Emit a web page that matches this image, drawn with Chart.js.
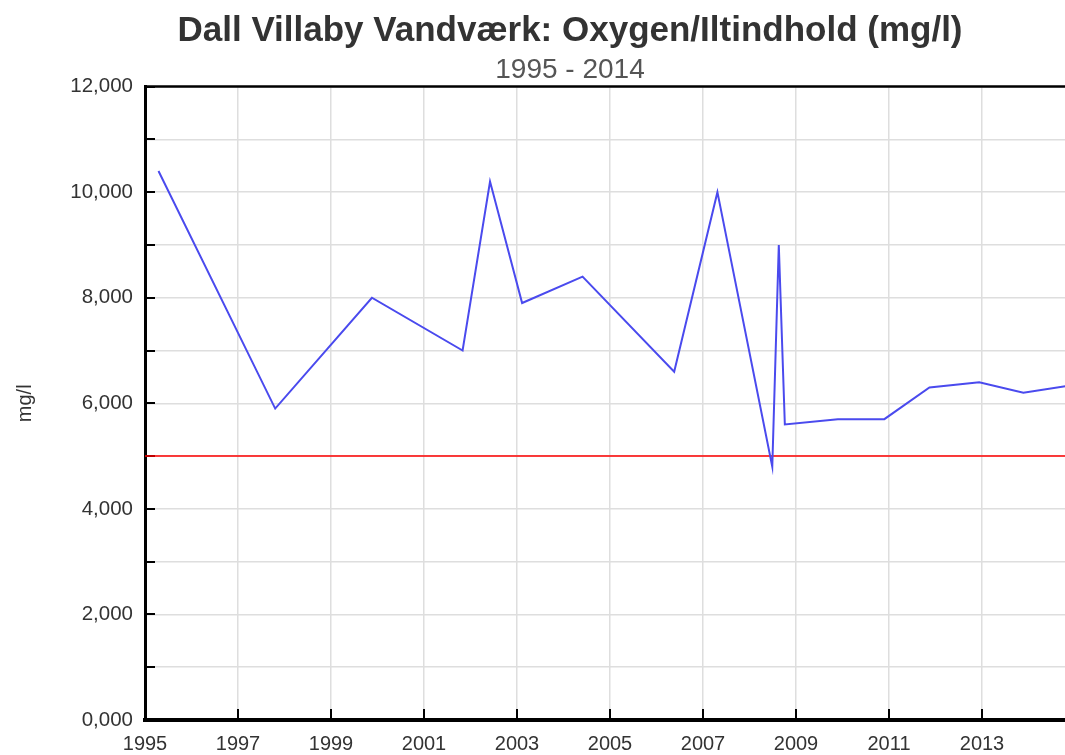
<!DOCTYPE html>
<html>
<head>
<meta charset="utf-8">
<script src="https://cdn.jsdelivr.net/npm/chart.js@4/dist/chart.umd.min.js"></script>
<style>
  html, body { margin: 0; padding: 0; background: #fff; overflow: hidden; }
  #wrap { width: 1065px; height: 755px; overflow: hidden; }
</style>
</head>
<body>
<div id="wrap"><canvas id="oxygenChart" width="1140" height="755"></canvas></div>
<script>
// measurement dates (decimal years) and oxygen content in mg/l
const sampleYears = [1995.29, 1997.8, 1999.88, 2001.83, 2002.42, 2003.11, 2004.41, 2006.38, 2007.31,
	2008.49, 2008.63, 2008.76, 2009.9, 2010.9, 2011.87, 2012.94, 2013.89, 2015.0];
const oxygen = [10.4, 5.9, 8.0, 7.0, 10.2, 7.9, 8.4, 6.6, 10.0,
	4.8, 9.0, 5.6, 5.7, 5.7, 6.3, 6.4, 6.2, 6.35];
// limit value
const limitYears = [1995, 2015];
const limitValue = [5.0, 5.0];

const chartTitle = 'Dall Villaby Vandværk: Oxygen/Iltindhold (mg/l)';
const chartSubtitle = '1995 - 2014';
const yLabel = 'mg/l';

const FONT = '"Liberation Sans", Arial, sans-serif';

// inward tick marks and thin top frame line
const framePlugin = {
	id: 'frame',
	beforeDatasetsDraw(chart) {
		const {ctx, chartArea} = chart;
		const x = chart.scales.x, y = chart.scales.y;
		ctx.save();
		ctx.strokeStyle = '#000';
		ctx.lineWidth = 2;
		ctx.beginPath();
		y.ticks.forEach(t => {
			const py = Math.round(y.getPixelForValue(t.value));
			ctx.moveTo(chartArea.left, py);
			ctx.lineTo(chartArea.left + 10, py);
		});
		x.ticks.forEach(t => {
			const px = Math.round(x.getPixelForValue(t.value));
			ctx.moveTo(px, chartArea.bottom);
			ctx.lineTo(px, chartArea.bottom - 11);
		});
		ctx.stroke();
		ctx.lineWidth = 2.5;
		ctx.beginPath();
		ctx.moveTo(chartArea.left, chartArea.top);
		ctx.lineTo(chartArea.right, chartArea.top);
		ctx.stroke();
		ctx.restore();
	}
};

const canvas = document.getElementById('oxygenChart');
// eslint-disable-next-line no-undef
new Chart(canvas, {
	type: 'line',
	data: {
		datasets: [{
			label: 'Oxygen',
			data: sampleYears.map((yr, i) => ({x: yr, y: oxygen[i]})),
			borderColor: '#4a4aee',
			borderWidth: 2,
			pointRadius: 0,
			tension: 0
		}, {
			label: 'Grænseværdi',
			data: limitYears.map((yr, i) => ({x: yr, y: limitValue[i]})),
			borderColor: '#ff0000',
			borderWidth: 1.5,
			pointRadius: 0
		}]
	},
	options: {
		responsive: false,
		animation: false,
		layout: {padding: 0},
		plugins: {
			legend: {display: false},
			tooltip: {enabled: false},
			title: {
				display: true,
				text: chartTitle,
				color: '#333',
				font: {family: FONT, size: 35, weight: 'bold', lineHeight: 1.2},
				padding: {top: 10, bottom: 0}
			},
			subtitle: {
				display: true,
				text: chartSubtitle,
				color: '#555',
				font: {family: FONT, size: 28, lineHeight: 1.2},
				padding: {top: 1, bottom: 0}
			}
		},
		scales: {
			x: {
				type: 'linear',
				min: 1995,
				max: 2015,
				afterFit: s => { s.height = 35; },
				border: {color: '#000', width: 4},
				grid: {color: '#dedede', lineWidth: 1.5, drawTicks: false},
				ticks: {
					stepSize: 2,
					padding: 12,
					color: '#333',
					maxRotation: 0,
					font: {family: FONT, size: 20},
					callback: v => (v < 2015 ? String(v) : '')
				}
			},
			y: {
				min: 0,
				max: 12,
				afterFit: s => { s.width = 145; },
				border: {color: '#000', width: 3},
				grid: {color: '#dedede', lineWidth: 1.5, drawTicks: false},
				ticks: {
					stepSize: 1,
					padding: 12,
					color: '#333',
					font: {family: FONT, size: 20.5},
					callback: v => (v % 2 === 0 ? v.toFixed(3).replace('.', ',') : '')
				},
				title: {
					display: true,
					text: yLabel,
					color: '#333',
					font: {family: FONT, size: 20, lineHeight: 1.2},
					padding: {top: 13, bottom: 0}
				}
			},
			// empty right-hand box, keeps the plot area ending at 2015 while titles centre on the full width
			yRight: {
				position: 'right',
				min: 0,
				max: 12,
				afterFit: s => { s.width = 65; },
				border: {display: false},
				grid: {display: false, drawTicks: false},
				ticks: {display: false}
			}
		}
	},
	plugins: [framePlugin]
});
</script>
</body>
</html>
